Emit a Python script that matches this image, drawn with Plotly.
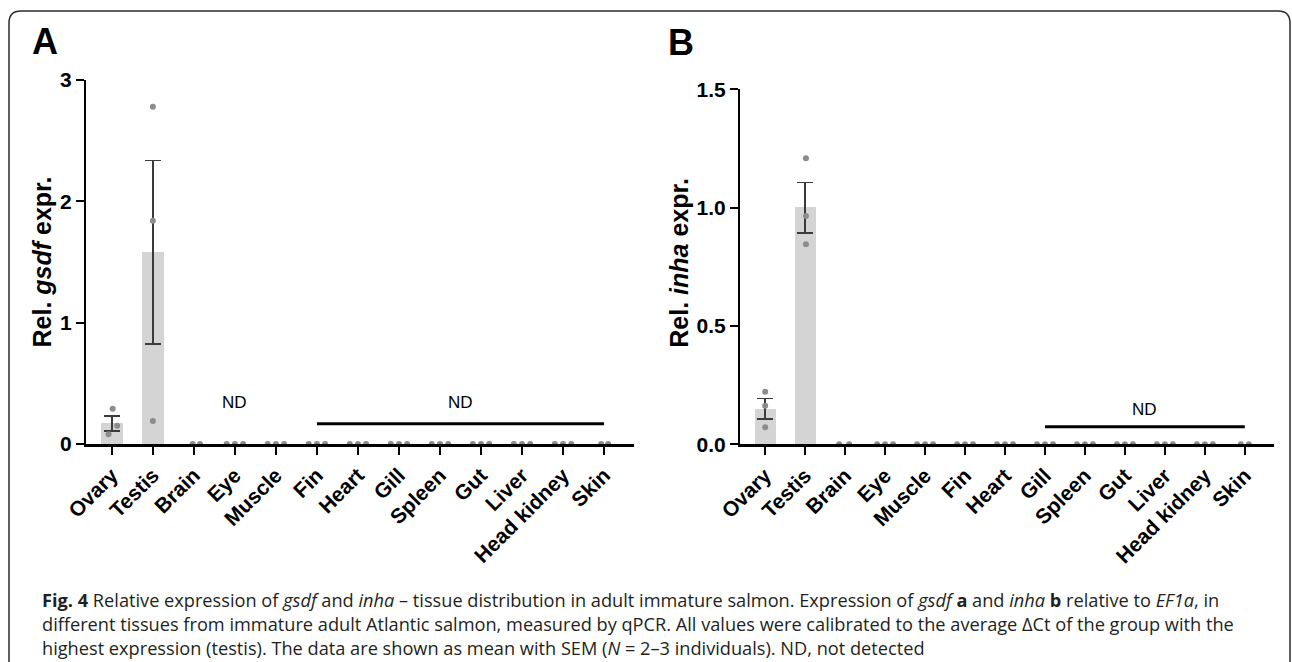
import plotly.graph_objects as go

W, H = 1292, 662

tissues = ["Ovary", "Testis", "Brain", "Eye", "Muscle", "Fin", "Heart",
           "Gill", "Spleen", "Gut", "Liver", "Head kidney", "Skin"]

# Panel A: gsdf
gsdf_mean = [0.17, 1.58, 0, 0, 0, 0, 0, 0, 0, 0, 0, 0, 0]
gsdf_sem = [0.063, 0.757, 0, 0, 0, 0, 0, 0, 0, 0, 0, 0, 0]
gsdf_reps = [[0.29, 0.15, 0.08], [2.78, 1.84, 0.19], [0, 0], [0, 0, 0], [0, 0, 0],
             [0, 0, 0], [0, 0, 0], [0, 0, 0], [0, 0, 0], [0, 0, 0], [0, 0, 0],
             [0, 0, 0], [0, 0]]
gsdf_ticks = [0, 1, 2, 3]
gsdf_ticktext = ["0", "1", "2", "3"]
gsdf_nd_single = ["Eye"]
gsdf_nd_group = ("Fin", "Skin")

# Panel B: inha
inha_mean = [0.15, 1.0, 0, 0, 0, 0, 0, 0, 0, 0, 0, 0, 0]
inha_sem = [0.044, 0.107, 0, 0, 0, 0, 0, 0, 0, 0, 0, 0, 0]
inha_reps = [[0.222, 0.163, 0.072], [1.209, 0.965, 0.845], [0, 0], [0, 0, 0], [0, 0, 0],
             [0, 0, 0], [0, 0, 0], [0, 0, 0], [0, 0, 0], [0, 0, 0], [0, 0, 0],
             [0, 0, 0], [0, 0]]
inha_ticks = [0, 0.5, 1.0, 1.5]
inha_ticktext = ["0.0", "0.5", "1.0", "1.5"]
inha_nd_group = ("Gill", "Skin")

# dot jitter (style, in category units)
gsdf_jitter = [[0.02, 0.13, -0.08], [0, 0, 0], [-0.03, 0.15]] + [[-0.2, 0, 0.2]] * 9 + [[-0.07, 0.1]]
inha_jitter = [[0, 0, 0], [0.02, 0.02, 0.02], [-0.15, 0.1]] + [[-0.2, 0, 0.2]] * 9 + [[-0.1, 0.1]]

FONT = "Liberation Sans, Arial, Helvetica, sans-serif"
BAR_COLOR = "#d4d4d4"
DOT_COLOR = "#8c8c8c"
ERR_COLOR = "#3a3a3a"


def px_x(p):
    return p / W


def px_y(p):
    return 1 - p / H


fig = go.Figure()

panels = [
    dict(mean=gsdf_mean, sem=gsdf_sem, reps=gsdf_reps, jit=gsdf_jitter, xa="x", ya="y"),
    dict(mean=inha_mean, sem=inha_sem, reps=inha_reps, jit=inha_jitter, xa="x2", ya="y2"),
]

for p in panels:
    idx = [i for i, m in enumerate(p["mean"]) if m > 0]
    fig.add_trace(go.Bar(
        x=idx, y=[p["mean"][i] for i in idx], width=0.52,
        marker=dict(color=BAR_COLOR, line=dict(width=0)),
        error_y=dict(type="data", array=[p["sem"][i] for i in idx], color=ERR_COLOR,
                     thickness=1.6, width=8),
        xaxis=p["xa"], yaxis=p["ya"], showlegend=False, hoverinfo="skip",
    ))
    xs, ys = [], []
    for i, (vals, offs) in enumerate(zip(p["reps"], p["jit"])):
        for v, o in zip(vals, offs):
            xs.append(i + o)
            ys.append(v)
    fig.add_trace(go.Scatter(
        x=xs, y=ys, mode="markers", marker=dict(color=DOT_COLOR, size=6),
        cliponaxis=False, xaxis=p["xa"], yaxis=p["ya"], showlegend=False, hoverinfo="skip",
    ))

xcommon = dict(
    range=[-0.63, 12.73], tickmode="array", tickvals=list(range(len(tissues))), ticktext=tissues,
    tickangle=-45, tickfont=dict(family=FONT, size=21, color="black", weight="bold"),
    ticks="outside", ticklen=8, tickwidth=2, tickcolor="black",
    showline=True, linewidth=2.5, linecolor="black", showgrid=False, zeroline=False,
    fixedrange=True, automargin=False,
)
ycommon = dict(
    ticks="outside", ticklen=8, tickwidth=2, tickcolor="black",
    tickfont=dict(family=FONT, size=21, color="black", weight="bold"),
    showline=True, linewidth=2, linecolor="black", showgrid=False, zeroline=False,
    fixedrange=True, automargin=False,
)

fig.update_layout(
    width=W, height=H, margin=dict(l=0, r=0, t=0, b=0, pad=0), autosize=False,
    paper_bgcolor="white", plot_bgcolor="rgba(0,0,0,0)",
    barmode="overlay", bargap=0,
    xaxis=dict(domain=[px_x(86), px_x(634)], anchor="y", **xcommon),
    yaxis=dict(domain=[px_y(444), px_y(80)], anchor="x", range=[0, 3],
               tickvals=gsdf_ticks, ticktext=gsdf_ticktext, **ycommon),
    xaxis2=dict(domain=[px_x(740), px_x(1274)], anchor="y2", **xcommon),
    yaxis2=dict(domain=[px_y(444.3), px_y(89.3)], anchor="x2", range=[0, 1.5],
                tickvals=inha_ticks, ticktext=inha_ticktext, **ycommon),
)

ann = []
# panel letters
ann.append(dict(text="<b>A</b>", x=px_x(44.5), y=px_y(41.5), xref="paper", yref="paper",
                showarrow=False, font=dict(family=FONT, size=36, color="black"),
                xanchor="center", yanchor="middle"))
ann.append(dict(text="<b>B</b>", x=px_x(681), y=px_y(43), xref="paper", yref="paper",
                showarrow=False, font=dict(family=FONT, size=36, color="black"),
                xanchor="center", yanchor="middle"))
# y titles
ann.append(dict(text="<b>Rel. <i>gsdf</i> expr.</b>", x=px_x(41.5), y=px_y(262),
                xref="paper", yref="paper", showarrow=False, textangle=-90,
                font=dict(family=FONT, size=25, color="black"),
                xanchor="center", yanchor="middle"))
ann.append(dict(text="<b>Rel. <i>inha</i> expr.</b>", x=px_x(678.7), y=px_y(263),
                xref="paper", yref="paper", showarrow=False, textangle=-90,
                font=dict(family=FONT, size=25, color="black"),
                xanchor="center", yanchor="middle"))

# ND labels and lines
ndfont = dict(family=FONT, size=17, color="black")
for t in gsdf_nd_single:
    ann.append(dict(text="ND", x=tissues.index(t), y=0.344, xref="x", yref="y",
                    showarrow=False, font=ndfont, xanchor="center", yanchor="middle"))
a0, a1 = tissues.index(gsdf_nd_group[0]), tissues.index(gsdf_nd_group[1])
ann.append(dict(text="ND", x=(a0 + a1) / 2, y=0.344, xref="x", yref="y",
                showarrow=False, font=ndfont, xanchor="center", yanchor="middle"))
fig.add_shape(type="line", x0=a0, x1=a1, y0=0.167, y1=0.167, xref="x", yref="y",
              line=dict(color="black", width=3))
b0, b1 = tissues.index(inha_nd_group[0]), tissues.index(inha_nd_group[1])
ann.append(dict(text="ND", x=(b0 + b1) / 2, y=0.145, xref="x2", yref="y2",
                showarrow=False, font=ndfont, xanchor="center", yanchor="middle"))
fig.add_shape(type="line", x0=b0, x1=b1, y0=0.074, y1=0.074, xref="x2", yref="y2",
              line=dict(color="black", width=3))

# caption
caption_lines = [
    "<b>Fig. 4</b> Relative expression of <i>gsdf</i> and <i>inha</i> – tissue distribution in adult immature salmon. Expression of <i>gsdf</i> <b>a</b> and <i>inha</i> <b>b</b> relative to <i>EF1a</i>, in",
    "different tissues from immature adult Atlantic salmon, measured by qPCR. All values were calibrated to the average ΔCt of the group with the",
    "highest expression (testis). The data are shown as mean with SEM (<i>N</i> = 2–3 individuals). ND, not detected",
]
for k, line in enumerate(caption_lines):
    ann.append(dict(text=line, x=px_x(40), y=px_y(600 + 24 * k), xref="paper", yref="paper",
                    showarrow=False, font=dict(family="Open Sans, sans-serif", size=18.2, color="#231f20"),
                    xanchor="left", yanchor="middle", align="left"))

fig.update_layout(annotations=ann)

# rounded frame
r = 12
L, R, T, B = 9, 1290, 11, 700
path = (f"M {px_x(L)},{px_y(B)} L {px_x(L)},{px_y(T + r)} "
        f"Q {px_x(L)},{px_y(T)} {px_x(L + r)},{px_y(T)} "
        f"L {px_x(R - r)},{px_y(T)} Q {px_x(R)},{px_y(T)} {px_x(R)},{px_y(T + r)} "
        f"L {px_x(R)},{px_y(B)}")
fig.add_shape(type="path", path=path, xref="paper", yref="paper",
              line=dict(color="#2b2b2b", width=1.5), layer="below")

fig.write_html("out.html", config={"displayModeBar": False},
               post_script="document.body.style.margin='0';document.body.style.overflow='hidden';")
